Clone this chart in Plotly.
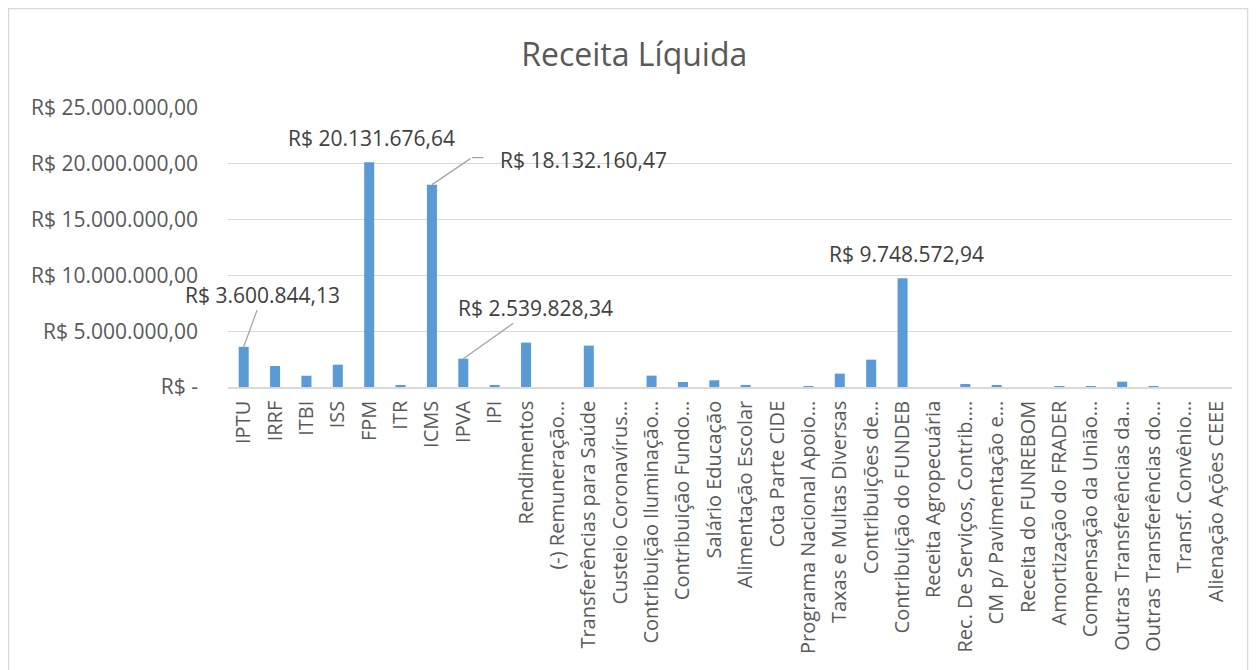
import plotly.graph_objects as go

categories = [
    "IPTU", "IRRF", "ITBI", "ISS", "FPM", "ITR", "ICMS", "IPVA", "IPI",
    "Rendimentos", "(-) Remuneração…", "Transferências para Saúde",
    "Custeio Coronavírus…", "Contribuição Iluminação…", "Contribuição Fundo…",
    "Salário Educação", "Alimentação Escolar", "Cota Parte CIDE",
    "Programa Nacional Apoio…", "Taxas e Multas Diversas", "Contribuições de…",
    "Contribuição do FUNDEB", "Receita Agropecuária", "Rec. De Serviços, Contrib.…",
    "CM p/ Pavimentação e…", "Receita do FUNREBOM", "Amortização do FRADER",
    "Compensação da União…", "Outras Transferências da…", "Outras Transferências do…",
    "Transf. Convênio…", "Alienação Ações CEEE",
]
values = [
    3600844.13, 1880000, 1010000, 2000000, 20131676.64, 150000, 18132160.47,
    2539828.34, 120000, 3980000, 0, 3710000,
    0, 1020000, 450000, 600000, 120000, 0,
    30000, 1200000, 2450000, 9748572.94, 0, 270000,
    180000, 0, 30000, 80000, 480000, 30000,
    0, 0,
]
y_tickvals = [0, 5000000, 10000000, 15000000, 20000000, 25000000]
y_ticktext = ["R$ -", "R$ 5.000.000,00", "R$ 10.000.000,00", "R$ 15.000.000,00",
              "R$ 20.000.000,00", "R$ 25.000.000,00"]

# labelled bars: (category, text, text offset ax, ay, leader line)
labelled = [
    ("IPTU", "R$ 3.600.844,13", 19, -52, "arrow"),
    ("FPM", "R$ 20.131.676,64", 2, -24, None),
    ("ICMS", "R$ 18.132.160,47", 152, -25, "elbow"),
    ("IPVA", "R$ 2.539.828,34", 72, -51, "arrow"),
    ("Contribuição do FUNDEB", "R$ 9.748.572,94", 4, -24, None),
]

FONT = "Open Sans"
TXT = "#595959"
LEADER = "#A6A6A6"

fig = go.Figure(go.Bar(
    x=categories, y=values, marker_color="#5B9BD5", marker_line_width=0,
    hoverinfo="x+y",
))

annotations = []
for cat, txt, ax, ay, leader in labelled:
    v = values[categories.index(cat)]
    annotations.append(dict(
        x=cat, y=v, xref="x", yref="y", text=txt,
        showarrow=True, arrowhead=0, arrowwidth=1.3,
        arrowcolor=LEADER if leader == "arrow" else "rgba(0,0,0,0)",
        ax=ax, ay=ay, standoff=0,
        font=dict(family=FONT, size=21, color="#404040"),
    ))
    if leader == "elbow":
        # diagonal part
        annotations.append(dict(
            x=cat, y=v, xref="x", yref="y", text="", showarrow=True,
            arrowhead=0, arrowwidth=1.3, arrowcolor=LEADER,
            ax=40, ay=-27, standoff=0,
        ))
        # horizontal part
        annotations.append(dict(
            x=cat, y=v, xref="x", yref="y", text="", showarrow=True,
            arrowhead=0, arrowwidth=1.3, arrowcolor=LEADER,
            xshift=40, yshift=27, ax=13, ay=0, standoff=0,
        ))

fig.update_layout(
    width=1256, height=670,
    margin=dict(l=228, r=24, t=108, b=283),
    paper_bgcolor="white", plot_bgcolor="white",
    title=dict(text="Receita Líquida", x=0.505, xanchor="center", y=0.918, yanchor="middle",
               xref="container",
               font=dict(family=FONT, size=32, color=TXT)),
    font=dict(family=FONT, size=20, color=TXT),
    bargap=0.68,
    showlegend=False,
    annotations=annotations,
    xaxis=dict(
        range=[-0.5, len(categories) - 0.5],
        tickangle=-90, tickfont=dict(family=FONT, size=20, color=TXT),
        showline=True, linecolor="#D9D9D9", linewidth=1.5, ticks="",
        showgrid=False, automargin=False, ticklabelstandoff=4,
    ),
    yaxis=dict(
        range=[0, 25000000], tickvals=y_tickvals, ticktext=y_ticktext,
        tickfont=dict(family=FONT, size=21, color=TXT),
        showgrid=True, gridcolor="#D9D9D9", gridwidth=1.3, zeroline=False,
        showline=False, ticks="", ticklabelstandoff=29, automargin=False,
    ),
    shapes=[dict(type="rect", xref="paper", yref="paper",
                 x0=-0.2185, x1=1.0156, y0=-1.05, y1=1.356,
                 line=dict(color="#D9D9D9", width=1.3), fillcolor="rgba(0,0,0,0)",
                 layer="below")],
)

fig.write_html("out.html", config={"displayModeBar": False},
               post_script="document.body.style.margin='0';")
